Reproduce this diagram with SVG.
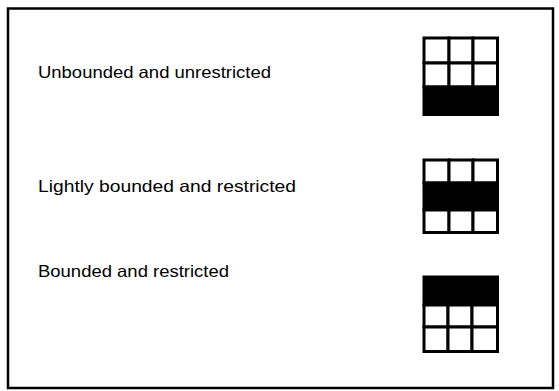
<svg xmlns="http://www.w3.org/2000/svg" width="559" height="391" viewBox="0 0 559 391">
<style>
.lbl{font-family:"Liberation Sans",Arial,sans-serif;font-size:16.5px;fill:#000}
.cell{fill:#fff;stroke:#000;stroke-width:3}
.band{fill:#000;stroke:#000;stroke-width:3}
</style>
<rect x="0" y="0" width="559" height="391" fill="#fff"/>
<rect x="8" y="8.5" width="545" height="379.5" fill="none" stroke="#000" stroke-width="2.5"/>
<g id="row1">
<text class="lbl" x="38" y="78" textLength="233" lengthAdjust="spacingAndGlyphs">Unbounded and unrestricted</text>
<g id="grid1">
<rect class="cell" x="424" y="38" width="25" height="25"/>
<rect class="cell" x="449" y="38" width="24" height="25"/>
<rect class="cell" x="473" y="38" width="24.5" height="25"/>
<rect class="cell" x="424" y="63" width="25" height="24"/>
<rect class="cell" x="449" y="63" width="24" height="24"/>
<rect class="cell" x="473" y="63" width="24.5" height="24"/>
<rect class="band" x="424" y="87" width="73.5" height="27.5"/>
</g>
</g>
<g id="row2">
<text class="lbl" x="38" y="192" textLength="258" lengthAdjust="spacingAndGlyphs">Lightly bounded and restricted</text>
<g id="grid2">
<rect class="cell" x="424" y="160" width="25" height="23"/>
<rect class="cell" x="449" y="160" width="24" height="23"/>
<rect class="cell" x="473" y="160" width="24.5" height="23"/>
<rect class="band" x="424" y="183" width="73.5" height="27"/>
<rect class="cell" x="424" y="210" width="25" height="22.5"/>
<rect class="cell" x="449" y="210" width="24" height="22.5"/>
<rect class="cell" x="473" y="210" width="24.5" height="22.5"/>
</g>
</g>
<g id="row3">
<text class="lbl" x="38" y="277" textLength="191" lengthAdjust="spacingAndGlyphs">Bounded and restricted</text>
<g id="grid3">
<rect class="band" x="424" y="277" width="73.5" height="28"/>
<rect class="cell" x="424" y="305" width="24" height="22"/>
<rect class="cell" x="448" y="305" width="24" height="22"/>
<rect class="cell" x="472" y="305" width="25.5" height="22"/>
<rect class="cell" x="424" y="327" width="24" height="24.5"/>
<rect class="cell" x="448" y="327" width="24" height="24.5"/>
<rect class="cell" x="472" y="327" width="25.5" height="24.5"/>
</g>
</g>
<g id="connectors"/>
</svg>
